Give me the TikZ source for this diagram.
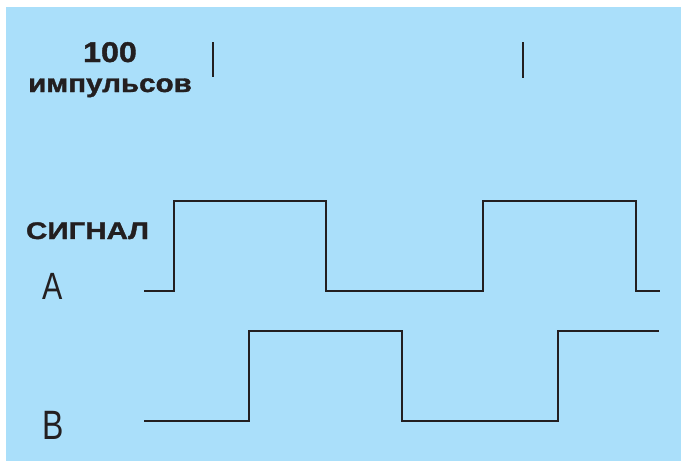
\documentclass[tikz,border=0pt]{standalone}
\usepackage{fontspec}
\setmainfont{Liberation Sans}
\newfontfamily\heavyfont[FakeBold=1.3]{Liberation Sans Bold}
\definecolor{bgblue}{RGB}{170,223,250}
\definecolor{ink}{RGB}{35,31,32}
\tikzset{
  wave/.style={draw=ink, line width=2.6pt, line join=miter},
  tick/.style={draw=ink, line width=2.4pt},
  boldlbl/.style={text=ink, inner sep=0pt, anchor=base},
  siglbl/.style={text=ink, inner sep=0pt, anchor=base}
}
\begin{document}
\begin{tikzpicture}[x=1pt,y=-1pt]
\useasboundingbox (0,0) rectangle (681,461);
\fill[white] (0,0) rectangle (681,461);
\fill[bgblue] (6,7) rectangle (681,461);
% labels
\node[boldlbl] (n100) at (110,62) {\scalebox{1.13}[1]{\fontsize{28.5}{28.5}\heavyfont 100}};
\node[boldlbl] (imp) at (110,92) {\scalebox{1.16}[1]{\fontsize{25.5}{25.5}\heavyfont импульсов}};
\node[boldlbl] (sig) at (87.5,239) {\scalebox{1.23}[1]{\fontsize{24}{24}\heavyfont СИГНАЛ}};
\node[siglbl] (la) at (52.5,299) {\scalebox{0.8}[1]{\fontsize{38}{38}\selectfont A}};
\node[siglbl] (lb) at (53,439) {\scalebox{0.78}[1]{\fontsize{41}{41}\selectfont B}};
% ticks
\coordinate (t1a) at (213,42); \coordinate (t1b) at (213,77);
\coordinate (t2a) at (523,42); \coordinate (t2b) at (523,78);
\draw[tick] (t1a) -- (t1b);
\draw[tick] (t2a) -- (t2b);
% signal A
\draw[wave] (144,291) -- (174,291) -- (174,201) -- (326,201) -- (326,291) -- (483,291) -- (483,201) -- (636,201) -- (636,291) -- (660,291);
% signal B
\draw[wave] (144,421) -- (249,421) -- (249,331) -- (402,331) -- (402,421) -- (558,421) -- (558,331) -- (659,331);
\end{tikzpicture}
\end{document}
